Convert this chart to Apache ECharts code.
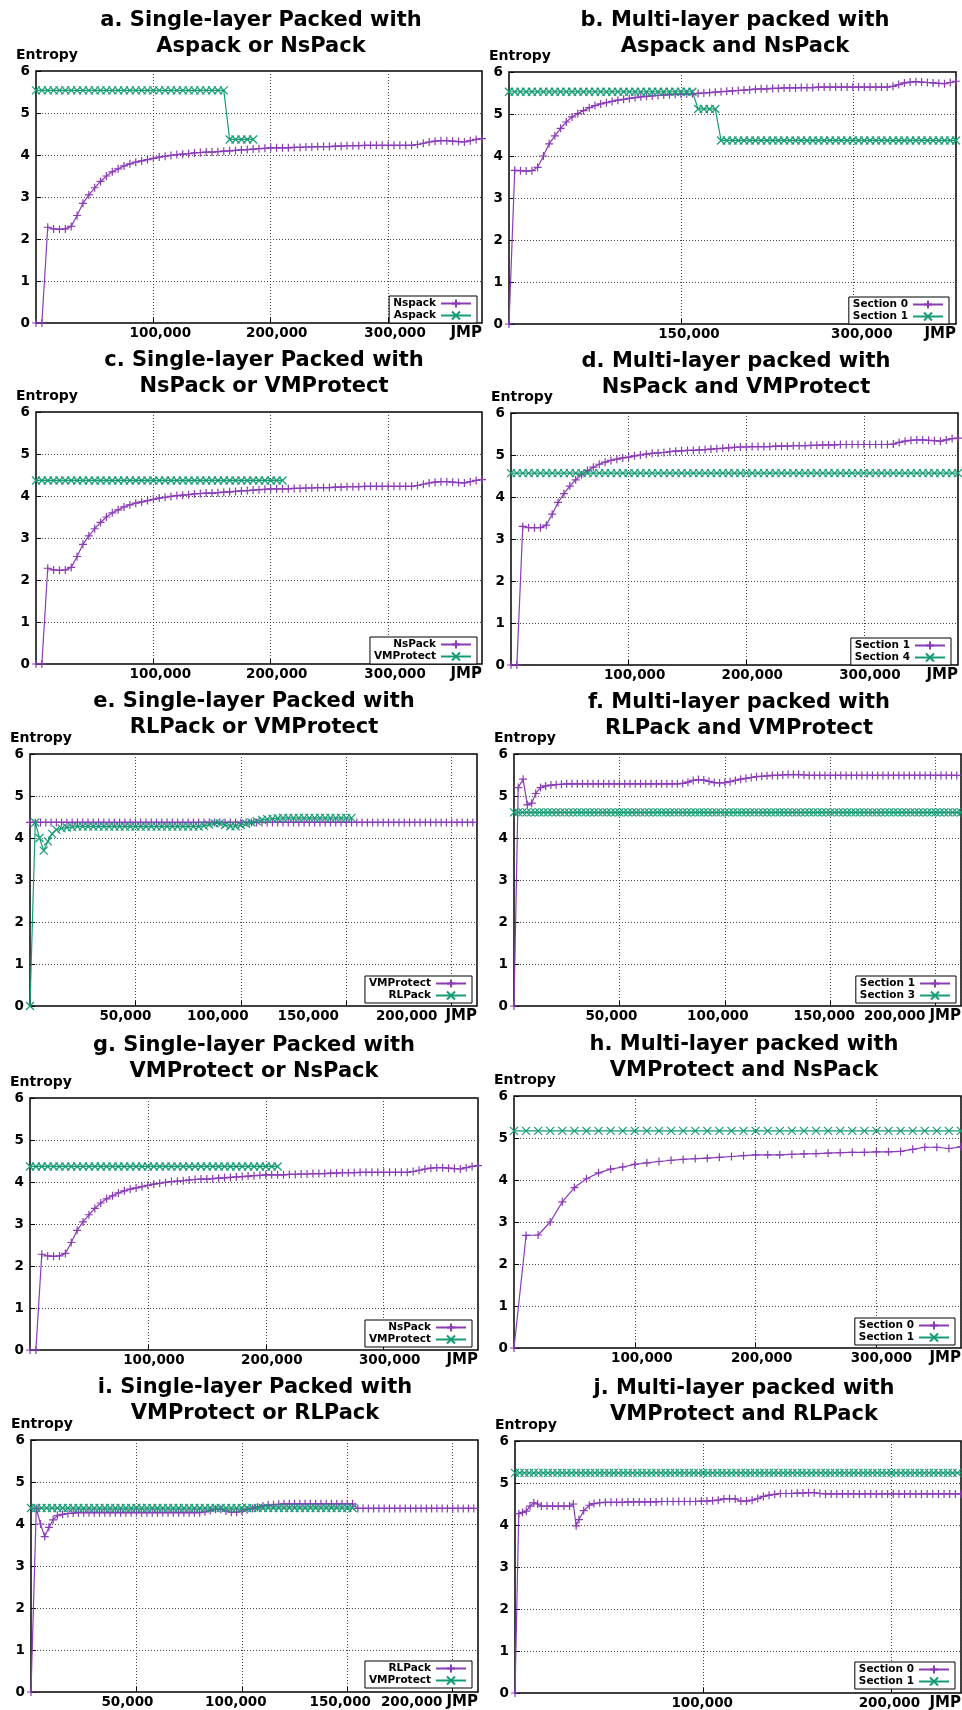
<!DOCTYPE html>
<html>
<head>
<meta charset="utf-8">
<script src="https://cdn.jsdelivr.net/npm/echarts@6/dist/echarts.min.js"></script>
<style>
  html, body { margin: 0; padding: 0; background: #fff; }
  #chart { width: 962px; height: 1710px; }
</style>
</head>
<body>
<div id="chart"></div>
<script>
// JMP positions are in thousands, the axis labels add the ",000"
const x5 = [0, 5, 10, 15, 20, 25, 30, 35, 40, 45,
  50, 55, 60, 65, 70, 75, 80, 85, 90, 95,
  100, 105, 110, 115, 120, 125, 130, 135, 140, 145,
  150, 155, 160, 165, 170, 175, 180, 185, 190, 195,
  200, 205, 210, 215, 220, 225, 230, 235, 240, 245,
  250, 255, 260, 265, 270, 275, 280, 285, 290, 295,
  300, 305, 310, 315, 320, 325, 330, 335, 340, 345,
  350, 355, 360, 365, 370, 375, 380, 385, 390]
const x10 = [0, 10, 20, 30, 40, 50, 60, 70, 80, 90,
  100, 110, 120, 130, 140, 150, 160, 170, 180, 190,
  200, 210, 220, 230, 240, 250, 260, 270, 280, 290,
  300, 310, 320, 330, 340, 350, 360, 370]
const x25 = [0, 2.5, 5, 7.5, 10, 12.5, 15, 17.5, 20, 22.5,
  25, 27.5, 30, 32.5, 35, 37.5, 40, 42.5, 45, 47.5,
  50, 52.5, 55, 57.5, 60, 62.5, 65, 67.5, 70, 72.5,
  75, 77.5, 80, 82.5, 85, 87.5, 90, 92.5, 95, 97.5,
  100, 102.5, 105, 107.5, 110, 112.5, 115, 117.5, 120, 122.5,
  125, 127.5, 130, 132.5, 135, 137.5, 140, 142.5, 145, 147.5,
  150, 152.5, 155, 157.5, 160, 162.5, 165, 167.5, 170, 172.5,
  175, 177.5, 180, 182.5, 185, 187.5, 190, 192.5, 195, 197.5,
  200, 202.5, 205, 207.5, 210, 212.5, 215, 217.5, 220, 222.5,
  225, 227.5, 230, 232.5, 235, 237.5]
const x2 = [0, 2, 4, 6, 8, 10, 12, 14, 16, 18,
  20, 22, 24, 26, 28, 30, 32, 34, 36, 38,
  40, 42, 44, 46, 48, 50, 52, 54, 56, 58,
  60, 62, 64, 66, 68, 70, 72, 74, 76, 78,
  80, 82, 84, 86, 88, 90, 92, 94, 96, 98,
  100, 102, 104, 106, 108, 110, 112, 114, 116, 118,
  120, 122, 124, 126, 128, 130, 132, 134, 136, 138,
  140, 142, 144, 146, 148, 150, 152, 154, 156, 158,
  160, 162, 164, 166, 168, 170, 172, 174, 176, 178,
  180, 182, 184, 186, 188, 190, 192, 194, 196, 198,
  200, 202, 204, 206, 208, 210, 212]

// single-layer NsPack curve (a, c, g) on x5
const nsPackY = [0, 0, 2.28, 2.24, 2.23, 2.24, 2.30, 2.56, 2.85, 3.05,
  3.22, 3.37, 3.50, 3.60, 3.67, 3.74, 3.79, 3.83, 3.86, 3.89,
  3.92, 3.95, 3.97, 3.99, 4.01, 4.02, 4.03, 4.05, 4.06, 4.07,
  4.07, 4.08, 4.09, 4.10, 4.11, 4.12, 4.13, 4.14, 4.15, 4.16,
  4.17, 4.17, 4.17, 4.17, 4.18, 4.18, 4.19, 4.19, 4.20, 4.20,
  4.20, 4.21, 4.21, 4.22, 4.22, 4.22, 4.23, 4.23, 4.23, 4.23,
  4.23, 4.23, 4.23, 4.23, 4.23, 4.25, 4.28, 4.31, 4.33, 4.34,
  4.34, 4.33, 4.32, 4.31, 4.34, 4.37, 4.39]
const aAspackY = [5.54, 5.54, 5.54, 5.54, 5.54, 5.54, 5.54, 5.54, 5.54, 5.54,
  5.54, 5.54, 5.54, 5.54, 5.54, 5.54, 5.54, 5.54, 5.54, 5.54,
  5.54, 5.54, 5.54, 5.54, 5.54, 5.54, 5.54, 5.54, 5.54, 5.54,
  5.54, 5.54, 5.54, 4.37, 4.37, 4.37, 4.37, 4.37]
const singleVmY = [4.37, 4.37, 4.37, 4.37, 4.37, 4.37, 4.37, 4.37, 4.37, 4.37,
  4.37, 4.37, 4.37, 4.37, 4.37, 4.37, 4.37, 4.37, 4.37, 4.37,
  4.37, 4.37, 4.37, 4.37, 4.37, 4.37, 4.37, 4.37, 4.37, 4.37,
  4.37, 4.37, 4.37, 4.37, 4.37, 4.37, 4.37, 4.37, 4.37, 4.37,
  4.37, 4.37, 4.37]

// b (x5)
const bSec0Y = [0, 3.66, 3.65, 3.64, 3.65, 3.73, 4.00, 4.29, 4.48, 4.66,
  4.81, 4.93, 5.01, 5.08, 5.15, 5.20, 5.24, 5.27, 5.30, 5.33,
  5.35, 5.37, 5.39, 5.41, 5.42, 5.43, 5.44, 5.45, 5.46, 5.47,
  5.47, 5.48, 5.48, 5.49, 5.50, 5.51, 5.52, 5.53, 5.54, 5.55,
  5.56, 5.57, 5.58, 5.59, 5.60, 5.60, 5.61, 5.61, 5.62, 5.62,
  5.62, 5.63, 5.63, 5.63, 5.64, 5.64, 5.64, 5.64, 5.64, 5.64,
  5.64, 5.64, 5.64, 5.64, 5.64, 5.64, 5.64, 5.66, 5.70, 5.74,
  5.76, 5.77, 5.76, 5.75, 5.74, 5.73, 5.72, 5.75, 5.78]
const bSec1Y = [5.53, 5.53, 5.53, 5.53, 5.53, 5.53, 5.53, 5.53, 5.53, 5.53,
  5.53, 5.53, 5.53, 5.53, 5.53, 5.53, 5.53, 5.53, 5.53, 5.53,
  5.53, 5.53, 5.53, 5.53, 5.53, 5.53, 5.53, 5.53, 5.53, 5.53,
  5.53, 5.53, 5.53, 5.12, 5.12, 5.12, 5.12, 4.37, 4.37, 4.37,
  4.37, 4.37, 4.37, 4.37, 4.37, 4.37, 4.37, 4.37, 4.37, 4.37,
  4.37, 4.37, 4.37, 4.37, 4.37, 4.37, 4.37, 4.37, 4.37, 4.37,
  4.37, 4.37, 4.37, 4.37, 4.37, 4.37, 4.37, 4.37, 4.37, 4.37,
  4.37, 4.37, 4.37, 4.37, 4.37, 4.37, 4.37, 4.37, 4.37]

// d (x5)
const dSec1Y = [0, 0, 3.30, 3.27, 3.27, 3.27, 3.33, 3.59, 3.87, 4.08,
  4.26, 4.41, 4.53, 4.63, 4.71, 4.78, 4.83, 4.87, 4.90, 4.93,
  4.95, 4.98, 5.00, 5.02, 5.04, 5.05, 5.06, 5.08, 5.09, 5.10,
  5.11, 5.11, 5.12, 5.13, 5.14, 5.15, 5.16, 5.17, 5.18, 5.19,
  5.19, 5.20, 5.20, 5.20, 5.20, 5.21, 5.21, 5.21, 5.22, 5.22,
  5.22, 5.23, 5.23, 5.24, 5.24, 5.24, 5.25, 5.25, 5.25, 5.25,
  5.25, 5.25, 5.25, 5.25, 5.25, 5.26, 5.30, 5.33, 5.35, 5.36,
  5.36, 5.35, 5.34, 5.33, 5.36, 5.39, 5.40]
const dSec4Y = [4.57, 4.57, 4.57, 4.57, 4.57, 4.57, 4.57, 4.57, 4.57, 4.57,
  4.57, 4.57, 4.57, 4.57, 4.57, 4.57, 4.57, 4.57, 4.57, 4.57,
  4.57, 4.57, 4.57, 4.57, 4.57, 4.57, 4.57, 4.57, 4.57, 4.57,
  4.57, 4.57, 4.57, 4.57, 4.57, 4.57, 4.57, 4.57, 4.57, 4.57,
  4.57, 4.57, 4.57, 4.57, 4.57, 4.57, 4.57, 4.57, 4.57, 4.57,
  4.57, 4.57, 4.57, 4.57, 4.57, 4.57, 4.57, 4.57, 4.57, 4.57,
  4.57, 4.57, 4.57, 4.57, 4.57, 4.57, 4.57, 4.57, 4.57, 4.57,
  4.57, 4.57, 4.57, 4.57, 4.57, 4.57, 4.57]

// e: VMProtect on x25, RLPack on its own positions
const eVmY = [4.37, 4.37, 4.37, 4.37, 4.37, 4.37, 4.37, 4.37, 4.37, 4.37,
  4.37, 4.37, 4.37, 4.37, 4.37, 4.37, 4.37, 4.37, 4.37, 4.37,
  4.37, 4.37, 4.37, 4.37, 4.37, 4.37, 4.37, 4.37, 4.37, 4.37,
  4.37, 4.37, 4.37, 4.37, 4.37, 4.37, 4.37, 4.37, 4.37, 4.37,
  4.37, 4.37, 4.37, 4.37, 4.37, 4.37, 4.37, 4.37, 4.37, 4.37,
  4.37, 4.37, 4.37, 4.37, 4.37, 4.37, 4.37, 4.37, 4.37, 4.37,
  4.37, 4.37, 4.37, 4.37, 4.37, 4.37, 4.37, 4.37, 4.37, 4.37,
  4.37, 4.37, 4.37, 4.37, 4.37, 4.37, 4.37, 4.37, 4.37, 4.37,
  4.37, 4.37, 4.37, 4.37, 4.37]
const eRlX = [0, 2.5, 4.5, 6.5, 8.5, 10.5, 12.5,
  15, 17.5, 20, 22.5, 25, 27.5, 30, 32.5, 35, 37.5,
  40, 42.5, 45, 47.5, 50, 52.5, 55, 57.5, 60, 62.5,
  65, 67.5, 70, 72.5, 75, 77.5, 80, 82.5, 85, 87.5,
  90, 92.5, 95, 97.5, 100, 102.5, 105, 107.5, 110, 112.5,
  115, 117.5, 120, 122.5, 125, 127.5, 130, 132.5, 135, 137.5,
  140, 142.5, 145, 147.5, 150, 152.5]
const eRlY = [0, 4.37, 4.00, 3.70, 3.92, 4.10, 4.20,
  4.23, 4.25, 4.26, 4.27, 4.27, 4.27, 4.27, 4.27, 4.27, 4.27,
  4.27, 4.27, 4.27, 4.27, 4.27, 4.27, 4.27, 4.27, 4.27, 4.27,
  4.27, 4.27, 4.27, 4.27, 4.27, 4.27, 4.27, 4.29, 4.32, 4.35,
  4.35, 4.31, 4.28, 4.28, 4.31, 4.34, 4.37, 4.40, 4.43, 4.45,
  4.46, 4.47, 4.48, 4.48, 4.48, 4.48, 4.48, 4.48, 4.48, 4.48,
  4.48, 4.48, 4.48, 4.48, 4.48, 4.48]

// f
const fSec1X = [0, 2, 4.3, 6.3, 8.4, 10.3, 12.6,
  15, 17.5, 20, 22.5, 25, 27.5, 30, 32.5, 35, 37.5,
  40, 42.5, 45, 47.5, 50, 52.5, 55, 57.5, 60, 62.5,
  65, 67.5, 70, 72.5, 75, 77.5, 80, 82.5, 85, 87.5,
  90, 92.5, 95, 97.5, 100, 102.5, 105, 107.5, 110, 112.5,
  115, 117.5, 120, 122.5, 125, 127.5, 130, 132.5, 135, 137.5,
  140, 142.5, 145, 147.5, 150, 152.5, 155, 157.5, 160, 162.5,
  165, 167.5, 170, 172.5, 175, 177.5, 180, 182.5, 185, 187.5,
  190, 192.5, 195, 197.5, 200, 202.5, 205, 207.5, 210]
const fSec1Y = [0, 5.20, 5.40, 4.79, 4.83, 5.06, 5.20,
  5.24, 5.26, 5.27, 5.28, 5.29, 5.29, 5.29, 5.29, 5.29, 5.29,
  5.29, 5.29, 5.29, 5.29, 5.29, 5.29, 5.29, 5.29, 5.29, 5.29,
  5.29, 5.29, 5.29, 5.29, 5.29, 5.29, 5.30, 5.33, 5.37, 5.39,
  5.38, 5.35, 5.32, 5.31, 5.32, 5.34, 5.37, 5.40, 5.42, 5.44,
  5.46, 5.47, 5.48, 5.49, 5.49, 5.50, 5.51, 5.51, 5.51, 5.50,
  5.49, 5.49, 5.49, 5.49, 5.49, 5.49, 5.49, 5.49, 5.49, 5.49,
  5.49, 5.49, 5.49, 5.49, 5.49, 5.49, 5.49, 5.49, 5.49, 5.49,
  5.49, 5.49, 5.49, 5.49, 5.49, 5.49, 5.49, 5.49, 5.49]
const fSec3Y = [4.61, 4.61, 4.61, 4.61, 4.61, 4.61, 4.61, 4.61, 4.61, 4.61,
  4.61, 4.61, 4.61, 4.61, 4.61, 4.61, 4.61, 4.61, 4.61, 4.61,
  4.61, 4.61, 4.61, 4.61, 4.61, 4.61, 4.61, 4.61, 4.61, 4.61,
  4.61, 4.61, 4.61, 4.61, 4.61, 4.61, 4.61, 4.61, 4.61, 4.61,
  4.61, 4.61, 4.61, 4.61, 4.61, 4.61, 4.61, 4.61, 4.61, 4.61,
  4.61, 4.61, 4.61, 4.61, 4.61, 4.61, 4.61, 4.61, 4.61, 4.61,
  4.61, 4.61, 4.61, 4.61, 4.61, 4.61, 4.61, 4.61, 4.61, 4.61,
  4.61, 4.61, 4.61, 4.61, 4.61, 4.61, 4.61, 4.61, 4.61, 4.61,
  4.61, 4.61, 4.61, 4.61, 4.61, 4.61, 4.61, 4.61, 4.61, 4.61,
  4.61, 4.61, 4.61, 4.61, 4.61, 4.61, 4.61, 4.61, 4.61, 4.61,
  4.61, 4.61, 4.61, 4.61, 4.61, 4.61, 4.61]

// h (x10)
const hSec0Y = [0, 2.68, 2.69, 3.00, 3.48, 3.82, 4.03, 4.17, 4.26, 4.31,
  4.37, 4.41, 4.44, 4.47, 4.49, 4.51, 4.52, 4.54, 4.56, 4.58,
  4.60, 4.60, 4.60, 4.61, 4.62, 4.63, 4.64, 4.65, 4.66, 4.66,
  4.67, 4.67, 4.68, 4.73, 4.78, 4.78, 4.75, 4.79]
const hSec1Y = [5.17, 5.17, 5.17, 5.17, 5.17, 5.17, 5.17, 5.17, 5.17, 5.17,
  5.17, 5.17, 5.17, 5.17, 5.17, 5.17, 5.17, 5.17, 5.17, 5.17,
  5.17, 5.17, 5.17, 5.17, 5.17, 5.17, 5.17, 5.17, 5.17, 5.17,
  5.17, 5.17, 5.17, 5.17, 5.17, 5.17, 5.17, 5.17]

// i: RLPack follows the e curve, then flat after 152,500
const iRlX = eRlX.concat([155, 157.5, 160, 162.5, 165, 167.5, 170, 172.5, 175, 177.5,
  180, 182.5, 185, 187.5, 190, 192.5, 195, 197.5, 200, 202.5, 205, 207.5, 210])
const iRlY = eRlY.concat([4.37, 4.37, 4.37, 4.37, 4.37, 4.37, 4.37, 4.37, 4.37, 4.37,
  4.37, 4.37, 4.37, 4.37, 4.37, 4.37, 4.37, 4.37, 4.37, 4.37, 4.37, 4.37, 4.37])
const iVmY = [4.38, 4.38, 4.38, 4.38, 4.38, 4.38, 4.38, 4.38, 4.38, 4.38,
  4.38, 4.38, 4.38, 4.38, 4.38, 4.38, 4.38, 4.38, 4.38, 4.38,
  4.38, 4.38, 4.38, 4.38, 4.38, 4.38, 4.38, 4.38, 4.38, 4.38,
  4.38, 4.38, 4.38, 4.38, 4.38, 4.38, 4.38, 4.38, 4.38, 4.38,
  4.38, 4.38, 4.38, 4.38, 4.38, 4.38, 4.38, 4.38, 4.38, 4.38,
  4.38, 4.38, 4.38, 4.38, 4.38, 4.38, 4.38, 4.38, 4.38, 4.38,
  4.38, 4.38]

// j
const jSec0X = [0, 2, 4, 6, 8, 10, 12, 14, 17, 20, 23, 26, 29, 31, 32.5, 34, 36.5, 39.5, 42,
  45, 48, 51, 54, 57, 60, 63, 66, 69, 72,
  75, 78, 81, 84, 87, 90, 93, 96, 99, 102,
  105, 108, 111, 114, 117, 120, 123, 126, 129, 132,
  135, 138, 141, 144, 147, 150, 153, 156, 159, 162,
  165, 168, 171, 174, 177, 180, 183, 186, 189, 192,
  195, 198, 201, 204, 207, 210, 213, 216, 219, 222,
  225, 228, 231, 234, 237]
const jSec0Y = [0, 4.27, 4.30, 4.33, 4.45, 4.53, 4.50, 4.45, 4.45, 4.45, 4.45, 4.45, 4.45, 4.50, 3.98, 4.13, 4.34, 4.47, 4.51,
  4.53, 4.54, 4.54, 4.54, 4.54, 4.55, 4.55, 4.55, 4.55, 4.55,
  4.55, 4.56, 4.56, 4.56, 4.56, 4.56, 4.56, 4.56, 4.57, 4.57,
  4.58, 4.59, 4.62, 4.63, 4.62, 4.57, 4.57, 4.59, 4.63, 4.68,
  4.71, 4.73, 4.75, 4.75, 4.75, 4.76, 4.76, 4.77, 4.77, 4.75,
  4.74, 4.74, 4.74, 4.74, 4.74, 4.74, 4.74, 4.74, 4.74, 4.74,
  4.74, 4.74, 4.74, 4.74, 4.74, 4.74, 4.74, 4.74, 4.74, 4.74,
  4.74, 4.74, 4.74, 4.74, 4.74]
const jSec1Y = [5.24, 5.24, 5.24, 5.24, 5.24, 5.24, 5.24, 5.24, 5.24, 5.24,
  5.24, 5.24, 5.24, 5.24, 5.24, 5.24, 5.24, 5.24, 5.24, 5.24,
  5.24, 5.24, 5.24, 5.24, 5.24, 5.24, 5.24, 5.24, 5.24, 5.24,
  5.24, 5.24, 5.24, 5.24, 5.24, 5.24, 5.24, 5.24, 5.24, 5.24,
  5.24, 5.24, 5.24, 5.24, 5.24, 5.24, 5.24, 5.24, 5.24, 5.24,
  5.24, 5.24, 5.24, 5.24, 5.24, 5.24, 5.24, 5.24, 5.24, 5.24,
  5.24, 5.24, 5.24, 5.24, 5.24, 5.24, 5.24, 5.24, 5.24, 5.24,
  5.24, 5.24, 5.24, 5.24, 5.24, 5.24, 5.24, 5.24, 5.24, 5.24,
  5.24, 5.24, 5.24, 5.24, 5.24, 5.24, 5.24, 5.24, 5.24, 5.24,
  5.24, 5.24, 5.24, 5.24, 5.24, 5.24]

const PURPLE = '#8a3bb6'
const GREEN = '#169c74'
const PLUS = 'path://M0,5L10,5M5,0L5,10'
const CROSS = 'path://M0,0L10,10M10,0L0,10'
const FONT = 'DejaVu Sans'

// grid: [left, top, width, height]; legend: [right, bottom]; shift: label nudge in px
const panels = [
    { key: 'a', title: 'a. Single-layer Packed with\nAspack or NsPack', tx: 261, ty: 8,
      grid: [36, 71, 446, 252], xMax: 380, xStep: 100, shift: { 100: 7, 200: 6, 300: 7 }, legend: [485, 1387],
      lines: [['Nspack', x5, nsPackY, PURPLE, PLUS], ['Aspack', x5, aAspackY, GREEN, CROSS]] },
    { key: 'b', title: 'b. Multi-layer packed with\nAspack and NsPack', tx: 735, ty: 8,
      grid: [509, 72, 447, 252], xMax: 390, xStep: 150, shift: { 150: 8, 300: 9 }, legend: [13, 1386],
      lines: [['Section 0', x5, bSec0Y, PURPLE, PLUS], ['Section 1', x5, bSec1Y, GREEN, CROSS]] },
    { key: 'c', title: 'c. Single-layer Packed with\nNsPack or VMProtect', tx: 264, ty: 348,
      grid: [36, 412, 446, 252], xMax: 380, xStep: 100, shift: { 100: 7, 200: 6, 300: 7 }, legend: [485, 1046],
      lines: [['NsPack', x5, nsPackY, PURPLE, PLUS], ['VMProtect', x5, singleVmY, GREEN, CROSS]] },
    { key: 'd', title: 'd. Multi-layer packed with\nNsPack and VMProtect', tx: 736, ty: 349,
      grid: [511, 413, 447, 252], xMax: 380, xStep: 100, shift: { 100: 6, 200: 6, 300: 6 }, legend: [11, 1045],
      lines: [['Section 1', x5, dSec1Y, PURPLE, PLUS], ['Section 4', x5, dSec4Y, GREEN, CROSS]] },
    { key: 'e', title: 'e. Single-layer Packed with\nRLPack or VMProtect', tx: 254, ty: 689,
      grid: [30, 754, 447, 252], xMax: 212, xStep: 50, shift: { 50: -10, 100: -23, 150: -38, 200: -45 }, legend: [490, 707],
      lines: [['VMProtect', x25, eVmY, PURPLE, PLUS], ['RLPack', eRlX, eRlY, GREEN, CROSS]] },
    { key: 'f', title: 'f. Multi-layer packed with\nRLPack and VMProtect', tx: 739, ty: 690,
      grid: [514, 754, 447, 252], xMax: 212, xStep: 50, shift: { 50: -8, 100: -7, 150: -6, 200: -41 }, legend: [6, 707],
      lines: [['Section 1', fSec1X, fSec1Y, PURPLE, PLUS], ['Section 3', x2, fSec3Y, GREEN, CROSS]] },
    { key: 'g', title: 'g. Single-layer Packed with\nVMProtect or NsPack', tx: 254, ty: 1033,
      grid: [30, 1098, 448, 252], xMax: 380, xStep: 100, shift: { 100: 6, 200: 6, 300: 6 }, legend: [490, 363],
      lines: [['NsPack', x5, nsPackY, PURPLE, PLUS], ['VMProtect', x5, singleVmY, GREEN, CROSS]] },
    { key: 'h', title: 'h. Multi-layer packed with\nVMProtect and NsPack', tx: 744, ty: 1032,
      grid: [514, 1096, 447, 252], xMax: 370, xStep: 100, shift: { 100: 7, 200: 6, 300: 5 }, legend: [7, 365],
      lines: [['Section 0', x10, hSec0Y, PURPLE, PLUS], ['Section 1', x10, hSec1Y, GREEN, CROSS]] },
    { key: 'i', title: 'i. Single-layer Packed with\nVMProtect or RLPack', tx: 255, ty: 1375,
      grid: [31, 1440, 447, 252], xMax: 212, xStep: 50, shift: { 50: -9, 100: -6, 150: -7, 200: -41 }, legend: [490, 22],
      lines: [['RLPack', iRlX, iRlY, PURPLE, PLUS], ['VMProtect', x25, iVmY, GREEN, CROSS]] },
    { key: 'j', title: 'j. Multi-layer packed with\nVMProtect and RLPack', tx: 744, ty: 1376,
      grid: [515, 1441, 446, 252], xMax: 237, xStep: 100, shift: { 100: -1, 200: -2 }, legend: [7, 21],
      lines: [['Section 0', jSec0X, jSec0Y, PURPLE, PLUS], ['Section 1', x25, jSec1Y, GREEN, CROSS]] },
]

const bold = (size) => ({ fontFamily: FONT, fontSize: size, fontWeight: 'bold', color: '#000' })
const gridLine = { show: true, lineStyle: { color: '#444', width: 1, type: [1, 2] } }
const tick = { show: true, inside: true, length: 5, lineStyle: { color: '#000', width: 1 } }

const option = {
    animation: false,
    backgroundColor: '#fff',
    title: [], grid: [], xAxis: [], yAxis: [], legend: [], series: []
}

panels.forEach((p, k) => {
    option.title.push({
        text: p.title, left: p.tx, top: p.ty, padding: 0,
        textAlign: 'center', textVerticalAlign: 'top',
        textStyle: Object.assign(bold(21), { lineHeight: 26 })
    })
    option.grid.push({
        left: p.grid[0], top: p.grid[1], width: p.grid[2], height: p.grid[3],
        show: true, borderColor: '#000', borderWidth: 1.5, backgroundColor: 'transparent',
        containLabel: false, outerBoundsMode: 'none'
    })
    const rich = {}
    Object.keys(p.shift).forEach((v) => {
        const s = p.shift[v]
        rich['t' + v] = Object.assign(bold(13.5), { padding: s < 0 ? [0, -2 * s, 0, 0] : [0, 0, 0, 2 * s] })
    })
    option.xAxis.push({
        type: 'value', gridIndex: k, min: 0, max: p.xMax, interval: p.xStep,
        name: 'JMP', nameLocation: 'end', nameGap: 0, nameMoveOverlap: false,
        nameTextStyle: Object.assign(bold(15), { align: 'right', verticalAlign: 'top', padding: [3, 0, 0, 0] }),
        axisLine: { show: false }, axisTick: tick, splitLine: gridLine,
        axisLabel: Object.assign(bold(13.5), {
            showMinLabel: false, showMaxLabel: false, margin: 3, rich,
            formatter: (v) => '{t' + v + '|' + v + ',000}'
        })
    })
    option.yAxis.push({
        type: 'value', gridIndex: k, min: 0, max: 6, interval: 1,
        name: 'Entropy', nameLocation: 'end', nameGap: 16, nameMoveOverlap: false,
        nameTextStyle: Object.assign(bold(14), { align: 'center', verticalAlign: 'middle', padding: [0, 0, 0, 22] }),
        axisLine: { show: false }, axisTick: tick, splitLine: gridLine,
        axisLabel: Object.assign(bold(13.5), { margin: 6 })
    })
    option.legend.push({
        data: p.lines.map((l) => p.key + ':' + l[0]),
        formatter: (n) => n.split(':')[1],
        orient: 'vertical', align: 'right', selectedMode: false,
        right: p.legend[0], bottom: p.legend[1],
        itemWidth: 30, itemHeight: 10, itemGap: 1, padding: [2, 5, 2, 4],
        borderColor: '#000', borderWidth: 1, borderRadius: 0, backgroundColor: '#fff',
        textStyle: bold(10.5)
    })
    p.lines.forEach((l) => {
        option.series.push({
            type: 'line', name: p.key + ':' + l[0], xAxisIndex: k, yAxisIndex: k,
            data: l[2].map((v, i) => [l[1][i], v]),
            symbol: l[4], symbolSize: 8, showSymbol: true, showAllSymbol: true,
            lineStyle: { color: l[3], width: 1.2 },
            itemStyle: { color: l[3], borderColor: l[3], borderWidth: 1.2 },
            silent: true, clip: true
        })
    })
})

const myChart = echarts.init(document.getElementById('chart'))
myChart.setOption(option)
</script>
</body>
</html>
